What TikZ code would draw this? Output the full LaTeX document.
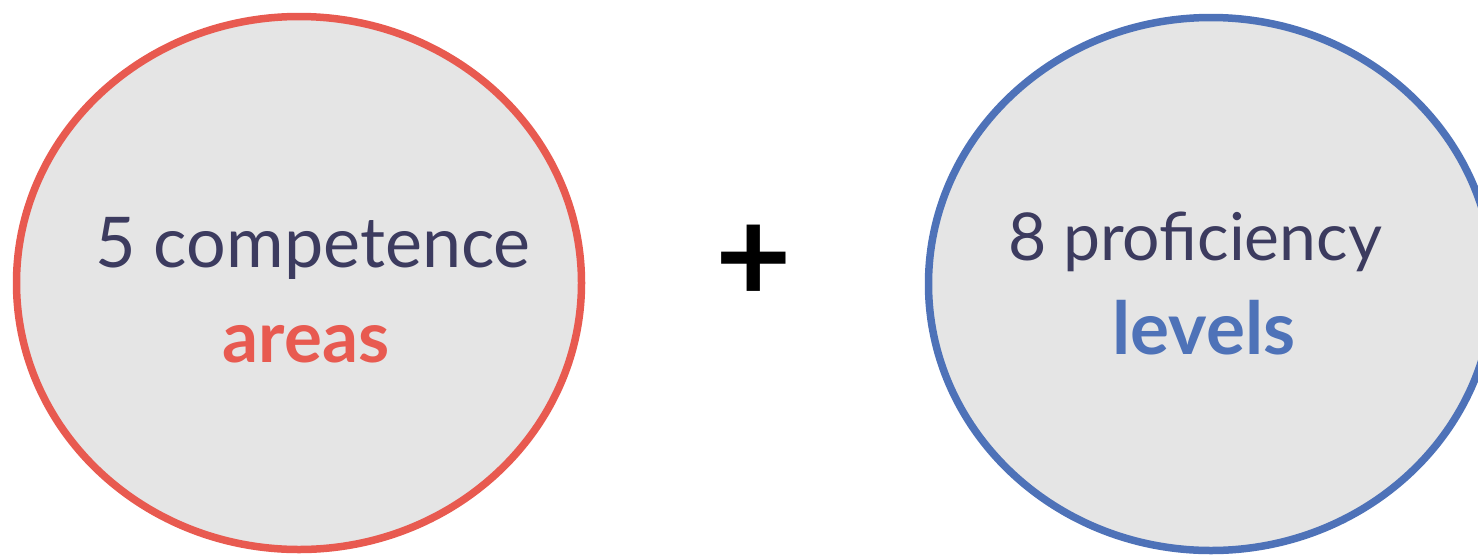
\documentclass[tikz,border=0pt]{standalone}
\usepackage{fontspec}
\setmainfont{Lato}
\usepackage{tikz}
\usetikzlibrary{shapes.geometric}

\definecolor{areared}{HTML}{E85A50}
\definecolor{levelblue}{HTML}{4E72B8}
\definecolor{ringfill}{HTML}{E5E5E5}
\definecolor{textnavy}{HTML}{3C3B5F}

\tikzset{
  ring/.style={draw, ellipse, line width=7.5pt, fill=ringfill,
    minimum width=565pt, minimum height=533pt, inner sep=0pt},
  thin text/.style={anchor=base, inner sep=0pt, text=textnavy},
  key word/.style={anchor=base, inner sep=0pt, font=\bfseries}
}

\begin{document}
\begin{tikzpicture}[x=1pt, y=-1pt]
\useasboundingbox (0,0) rectangle (1478,555);
\clip (0,0) rectangle (1478,555);
% the two rings
\node[ring, draw=areared] (areasring) at (299,283) {};
\node[ring, draw=levelblue] (levelsring) at (1211,284) {};
% their texts
\node[thin text, font=\fontsize{70}{80}\selectfont] (areasline) at (313,267) {5 competence};
\node[key word, text=areared, font=\fontsize{71}{80}\selectfont\bfseries] (areasword) at (306,362) {areas};
\node[thin text, font=\fontsize{66}{76}\selectfont] (levelsline) at (1195,260) {8 proficiency};
\node[key word, text=levelblue, font=\fontsize{73}{82}\selectfont\bfseries] (levelsword) at (1204,354) {levels};
% the plus between them
\node[inner sep=0pt, font=\fontsize{132}{140}\selectfont\bfseries] (plus) at (754,264) {+};
\end{tikzpicture}
\end{document}
